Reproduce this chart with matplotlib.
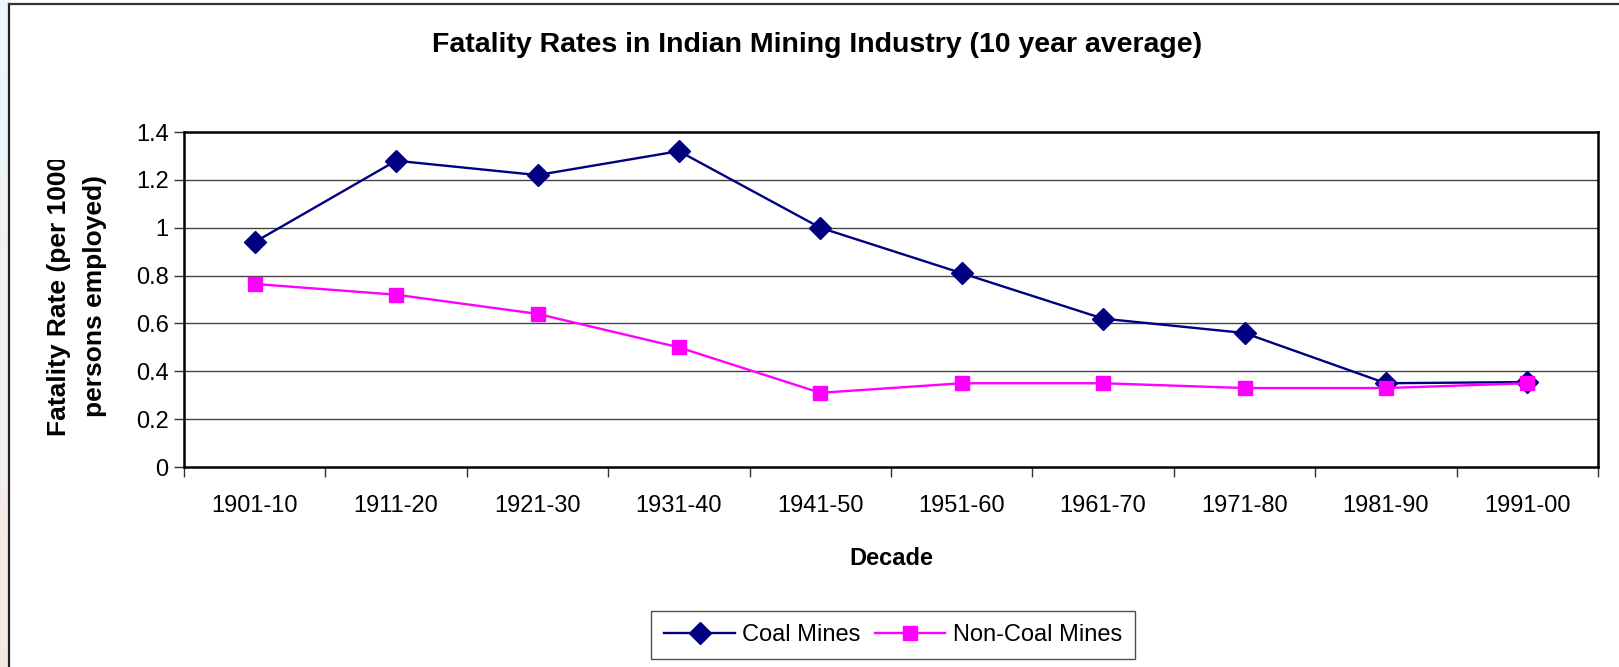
import matplotlib
matplotlib.use("Agg")
import matplotlib.pyplot as plt
import numpy as np
from matplotlib.transforms import Bbox

plt.rcParams['font.family'] = ['Liberation Sans', 'DejaVu Sans']

decades = ["1901-10", "1911-20", "1921-30", "1931-40", "1941-50",
           "1951-60", "1961-70", "1971-80", "1981-90", "1991-00"]
coal = [0.94, 1.28, 1.22, 1.32, 1.00, 0.81, 0.62, 0.56, 0.35, 0.355]
noncoal = [0.765, 0.72, 0.64, 0.50, 0.31, 0.35, 0.35, 0.33, 0.33, 0.35]
yticks = [0, 0.2, 0.4, 0.6, 0.8, 1, 1.2, 1.4]
ytick_labels = ["0", "0.2", "0.4", "0.6", "0.8", "1", "1.2", "1.4"]

W, H = 1619, 667
fig = plt.figure(figsize=(W / 100, H / 100), dpi=100)
fig.patch.set_facecolor('white')

# left background strip (slide background peeking through)
bg = fig.add_axes([0, 0, 8 / W, 1])
grad = np.linspace(0, 1, 200)[:, None]
c_top = np.array([0.93, 0.97, 0.99])
c_bot = np.array([0.96, 0.92, 0.90])
img = c_top[None, None, :] * (1 - grad[..., None]) + c_bot[None, None, :] * grad[..., None]
bg.imshow(img, aspect='auto', extent=[0, 1, 0, 1])
bg.axis('off')

# chart border (top and left visible)
fig.add_artist(plt.Line2D([8.5 / W, 8.5 / W], [0, 1 - 4 / H], transform=fig.transFigure,
                          color='#222222', lw=1.6))
fig.add_artist(plt.Line2D([8.5 / W, 1], [1 - 4 / H, 1 - 4 / H], transform=fig.transFigure,
                          color='#333333', lw=1.6))

ax = fig.add_axes([184 / W, 1 - 467 / H, (1598 - 184) / W, (467 - 132) / H])
x = np.arange(len(decades))

ax.plot(x, coal, color='#000080', lw=1.7, marker='D', markersize=11,
        markerfacecolor='#000080', markeredgecolor='#000080', label='Coal Mines', zorder=3)
ax.plot(x, noncoal, color='#FF00FF', lw=1.7, marker='s', markersize=10,
        markerfacecolor='#FF00FF', markeredgecolor='#FF00FF', label='Non-Coal Mines', zorder=3)

ax.set_xlim(-0.5, len(decades) - 0.5)
ax.set_ylim(0, 1.4)
ax.set_yticks(yticks)
ax.set_yticklabels(ytick_labels, fontsize=17)
ax.set_xticks(x)
ax.set_xticklabels(decades, fontsize=17)
ax.set_xticks(np.arange(-0.5, len(decades), 1), minor=True)
ax.tick_params(axis='x', which='major', length=0, pad=20)
ax.tick_params(axis='x', which='minor', length=7, width=1, direction='out', color='#333333')
ax.tick_params(axis='y', which='major', length=7, width=1, direction='out', pad=4, color='#333333')

for yv in yticks[1:-1]:
    ax.axhline(yv, color='#444444', lw=1.0, zorder=1)

for s in ax.spines.values():
    s.set_linewidth(1.8)
    s.set_color('black')

ax.set_xlabel('Decade', fontsize=17, fontweight='bold', labelpad=22)

fig.text(817 / W, 1 - 45 / H, 'Fatality Rates in Indian Mining Industry (10 year average)',
         ha='center', va='center', fontsize=20.5, fontweight='bold')

yl = fig.text(77 / W, 1 - 296 / H, 'Fatality Rate (per 1000\npersons employed)',
              rotation=90, ha='center', va='center', multialignment='center',
              fontsize=19, fontweight='bold', linespacing=1.6)
yl.set_clip_box(Bbox.from_extents(0, 0, W, H - 160))
yl.set_clip_on(True)

leg = ax.legend(loc='center', bbox_to_anchor=(893 / W, 1 - 635 / H),
                bbox_transform=fig.transFigure, ncol=2, fontsize=17,
                frameon=True, fancybox=False, shadow=False, handlelength=3.0,
                columnspacing=0.6, handletextpad=0.3, borderpad=0.55, borderaxespad=0)
leg.get_frame().set_edgecolor('#222222')
leg.get_frame().set_linewidth(1.0)

fig.savefig('out.png', dpi=100)
